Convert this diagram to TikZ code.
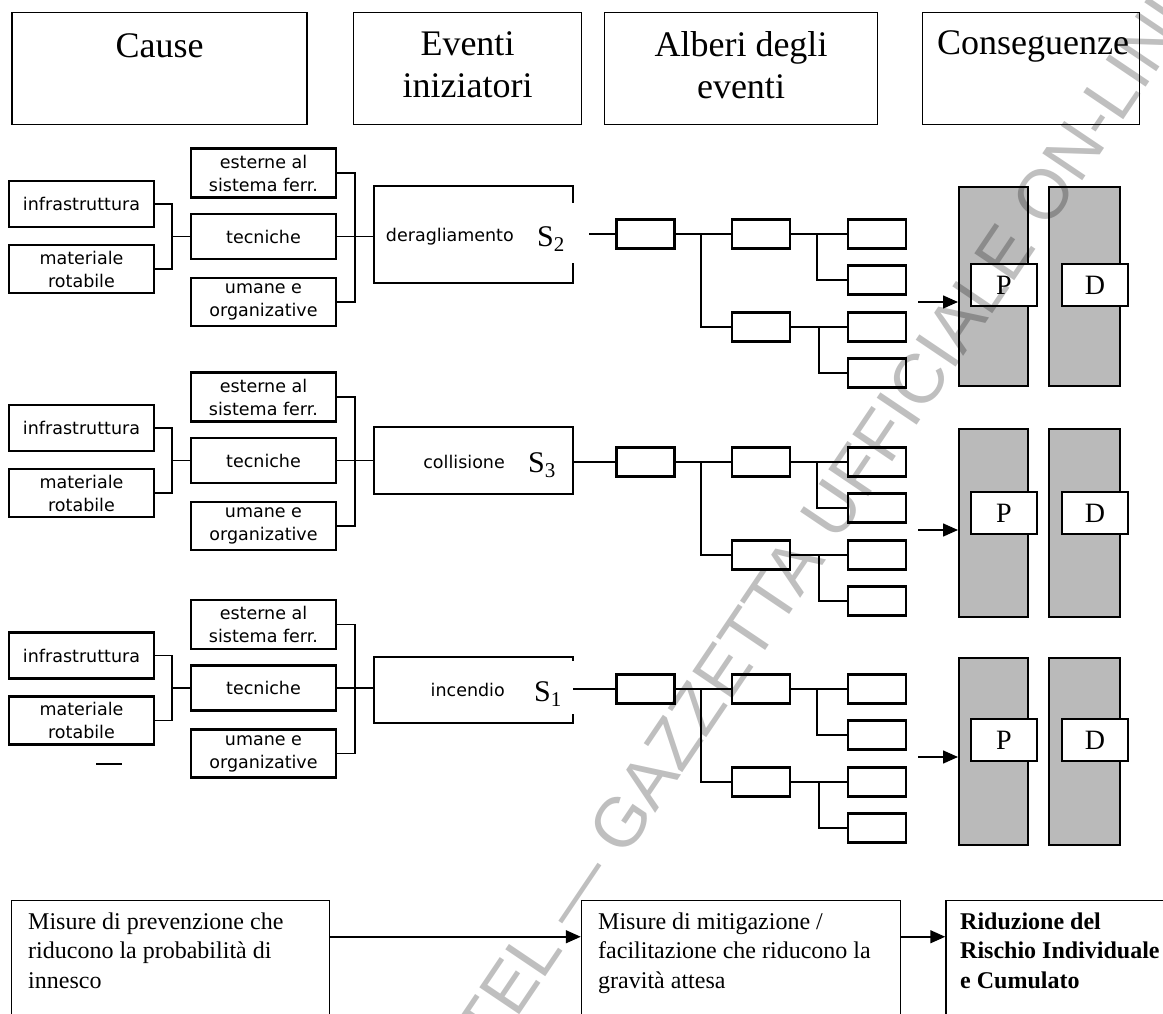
\documentclass[tikz,border=0pt]{standalone}
\usepackage{fontspec}
\setmainfont{Liberation Serif}
\newfontfamily\sansf{DejaVu Sans}
\newfontfamily\wmf{Liberation Sans}
\usetikzlibrary{arrows.meta,calc}

\tikzset{
  hdbox/.style={draw, line width=1.4pt, minimum height=112pt, inner sep=0pt},
  hdtext/.style={inner sep=0pt, font=\fontsize{36}{42}\selectfont, align=center},
  cbox/.style={draw, line width=2.2pt, fill=white, minimum width=145pt, inner sep=0pt,
    align=center, font=\sansf\fontsize{17.5}{23}\selectfont},
  evbox/.style={minimum width=199pt, inner sep=0pt},
  evline/.style={line width=1.6pt},
  evlab/.style={inner sep=0pt, font=\sansf\fontsize{17.5}{22}\selectfont},
  slab/.style={inner sep=0pt, font=\fontsize{30}{32}\selectfont},
  tbox/.style={draw, line width=2.8pt, fill=white, minimum width=58pt, minimum height=29pt, inner sep=0pt},
  conn/.style={line width=1.5pt},
  col/.style={draw, line width=2pt, fill=black!27},
  pdbox/.style={draw, line width=1.8pt, fill=white, minimum width=66pt, minimum height=42pt,
    inner sep=0pt, font=\fontsize{28}{30}\selectfont},
  colarrow/.style={line width=1.5pt, -{Triangle[length=15pt,width=13pt]}},
  bmbox/.style={draw, line width=1.5pt, minimum height=139pt, inner sep=0pt},
  bmtext/.style={inner sep=0pt, align=left, anchor=north west, font=\fontsize{24}{29.5}\selectfont},
  bmarrow/.style={line width=1.5pt, -{Triangle[length=15pt,width=13pt]}},
}

% cause block: #1 prefix, #2 y of "tecniche", #3 event box top, #4 event box bottom
\newcommand\mycause[4]{%
  \pgfmathsetmacro\Ya{#2-32.5}\pgfmathsetmacro\Yb{#2+32.5}%
  \pgfmathsetmacro\Yc{#2-63.5}\pgfmathsetmacro\Yd{#2+65.5}%
  \pgfmathsetmacro\Ye{(#3+#4)/2}\pgfmathsetmacro\Yh{#4-#3}%
  \node[cbox, minimum height=46pt] (#1inf) at (81.5,\Ya) {infrastruttura};
  \node[cbox, minimum height=48pt] (#1mat) at (81.5,\Yb) {materiale\\rotabile};
  \node[cbox, minimum height=49pt] (#1est) at (263.5,\Yc) {esterne al\\sistema ferr.};
  \node[cbox, minimum height=45pt] (#1tec) at (263.5,#2) {tecniche};
  \node[cbox, minimum height=48pt] (#1uma) at (263.5,\Yd) {umane e\\organizative};
  \coordinate (#1j1) at (172,#2);
  \coordinate (#1j2) at (355,#2);
  \draw[conn] (#1inf.east) -| (#1j1) |- (#1mat.east);
  \draw[conn] (#1j1) -- (#1tec.west);
  \draw[conn] (#1est.east) -| (#1j2) |- (#1uma.east);
  \node[evbox, minimum height=\Yh] (#1ev) at (473.5,\Ye) {};
  \draw[conn] (#1tec.east) -- (#1tec.east -| #1ev.west);
}

% event tree + consequences: #1 prefix, #2 tree line y, #3 column top, #4 column bottom
\newcommand\mytree[4]{%
  \pgfmathsetmacro\Lb{#2+93}\pgfmathsetmacro\Lc{#2+46}\pgfmathsetmacro\Ld{#2+139}%
  \pgfmathsetmacro\La{#2+68}\pgfmathsetmacro\Lp{#2+51}%
  \pgfmathsetmacro\Cc{(#3+#4)/2}\pgfmathsetmacro\Ch{#4-#3-2}%
  \node[tbox] (#1t0) at (645.5,#2) {};
  \node[tbox] (#1t1a) at (761,#2) {};
  \node[tbox] (#1t1b) at (761,\Lb) {};
  \node[tbox] (#1t2a) at (877,#2) {};
  \node[tbox] (#1t2b) at (877,\Lc) {};
  \node[tbox] (#1t2c) at (877,\Lb) {};
  \node[tbox] (#1t2d) at (877,\Ld) {};
  \coordinate (#1b1) at (701,#2);
  \coordinate (#1b2) at (817,#2);
  \coordinate (#1b3) at (819,\Lb);
  \draw[conn] (#1t0) -- (#1t1a);
  \draw[conn] (#1b1) |- (#1t1b.west);
  \draw[conn] (#1t1a) -- (#1t2a);
  \draw[conn] (#1b2) |- (#1t2b.west);
  \draw[conn] (#1t1b) -- (#1t2c);
  \draw[conn] (#1b3) |- (#1t2d.west);
  \node[col, minimum width=69pt, minimum height=\Ch] (#1pc) at (993.5,\Cc) {};
  \node[col, minimum width=71pt, minimum height=\Ch] (#1dc) at (1084.5,\Cc) {};
  \node[pdbox] (#1p) at (1004,\Lp) {P};
  \node[pdbox] (#1d) at (1095,\Lp) {D};
  \coordinate (#1ar) at (918,\La);
  \draw[colarrow] (#1ar) -- (#1ar -| #1pc.west);
}

\begin{document}
\begin{tikzpicture}[x=1pt, y=-1pt]
\useasboundingbox (0,0) rectangle (1163,1014);
\clip (0,0) rectangle (1163,1014);

% header
\node[hdbox, minimum width=295pt] (hcause) at (159.5,68.5) {};
\node[hdtext, anchor=base] (hcauset) at (159.5,58) {Cause};
\node[hdbox, minimum width=228pt] (heve) at (467.5,68.5) {};
\node[hdtext, anchor=north] (hevet) at (467.5,31) {Eventi\\iniziatori};
\node[hdbox, minimum width=273pt] (halb) at (741,68.5) {};
\node[hdtext, anchor=north] (halbt) at (741,31) {Alberi degli\\eventi};
\node[hdbox, minimum width=217pt] (hcon) at (1031,68.5) {};
\node[hdtext, anchor=base] (hcont) at (1033,55) {Conseguenze};

% row 1
\mycause{r1}{236.5}{186}{283}
\draw[evline] ([yshift=-17pt]r1ev.north east) -- (r1ev.north east) -- (r1ev.north west)
  -- (r1ev.south west) -- (r1ev.south east) -- ([yshift=20pt]r1ev.south east);
\node[evlab, anchor=base east] (r1lab) at (514,241) {deragliamento};
\node[slab, anchor=base west] (r1s) at (537,246) {S\textsubscript{2}};
\mytree{r1}{234}{186}{387}
\coordinate (r1se) at (589,234);
\draw[conn] (r1se) -- (r1t0.west);

% row 2
\mycause{r2}{460.5}{427}{494}
\draw[evline] (r2ev.north west) rectangle (r2ev.south east);
\node[evlab, anchor=base east] (r2lab) at (505,468) {collisione};
\node[slab, anchor=base west] (r2s) at (528,472) {S\textsubscript{3}};
\mytree{r2}{462}{428}{618}
\draw[conn] (r2ev.east |- r2t0.west) -- (r2t0.west);

% row 3
\mycause{r3}{688}{657}{723}
\draw[evline] ([yshift=-4pt]r3ev.north east) -- (r3ev.north east) -- (r3ev.north west)
  -- (r3ev.south west) -- (r3ev.south east) -- ([yshift=9pt]r3ev.south east);
\node[evlab, anchor=base east] (r3lab) at (505,696) {incendio};
\node[slab, anchor=base west] (r3s) at (534,701) {S\textsubscript{1}};
\mytree{r3}{689}{657}{846}
\draw[conn] (r3ev.east |- r3t0.west) -- (r3t0.west);
\draw[line width=1.2pt] (96,764) -- (122,764);

% bottom
\node[bmbox, minimum width=318pt] (bm1) at (170.5,970) {};
\node[bmtext] (bm1t) at (28,912.5) {Misure di prevenzione che\\riducono la probabilità di\\innesco};
\node[bmbox, minimum width=319pt] (bm2) at (741,970) {};
\node[bmtext] (bm2t) at (598,912.5) {Misure di mitigazione /\\facilitazione che riducono la\\gravità attesa};
\node[bmbox, minimum width=236pt] (bm3) at (1064,970) {};
\node[bmtext, font=\bfseries\fontsize{24}{29.5}\selectfont] (bm3t) at (960,912.5) {Riduzione del\\Rischio Individuale\\e Cumulato};
\draw[bmarrow] ($(bm1.north east)+(0,37)$) -- ($(bm2.north west)+(0,37)$);
\draw[bmarrow] ($(bm2.north east)+(0,37)$) -- ($(bm3.north west)+(0,37)$);

% watermark
\begin{scope}[blend mode=multiply]
\node[font=\wmf\fontsize{70}{72}\selectfont, text=black!25, rotate=56, inner sep=0pt] (wm)
  at (830,512) {TEL — GAZZETTA UFFICIALE ON-LINE};
\end{scope}
\end{tikzpicture}
\end{document}
